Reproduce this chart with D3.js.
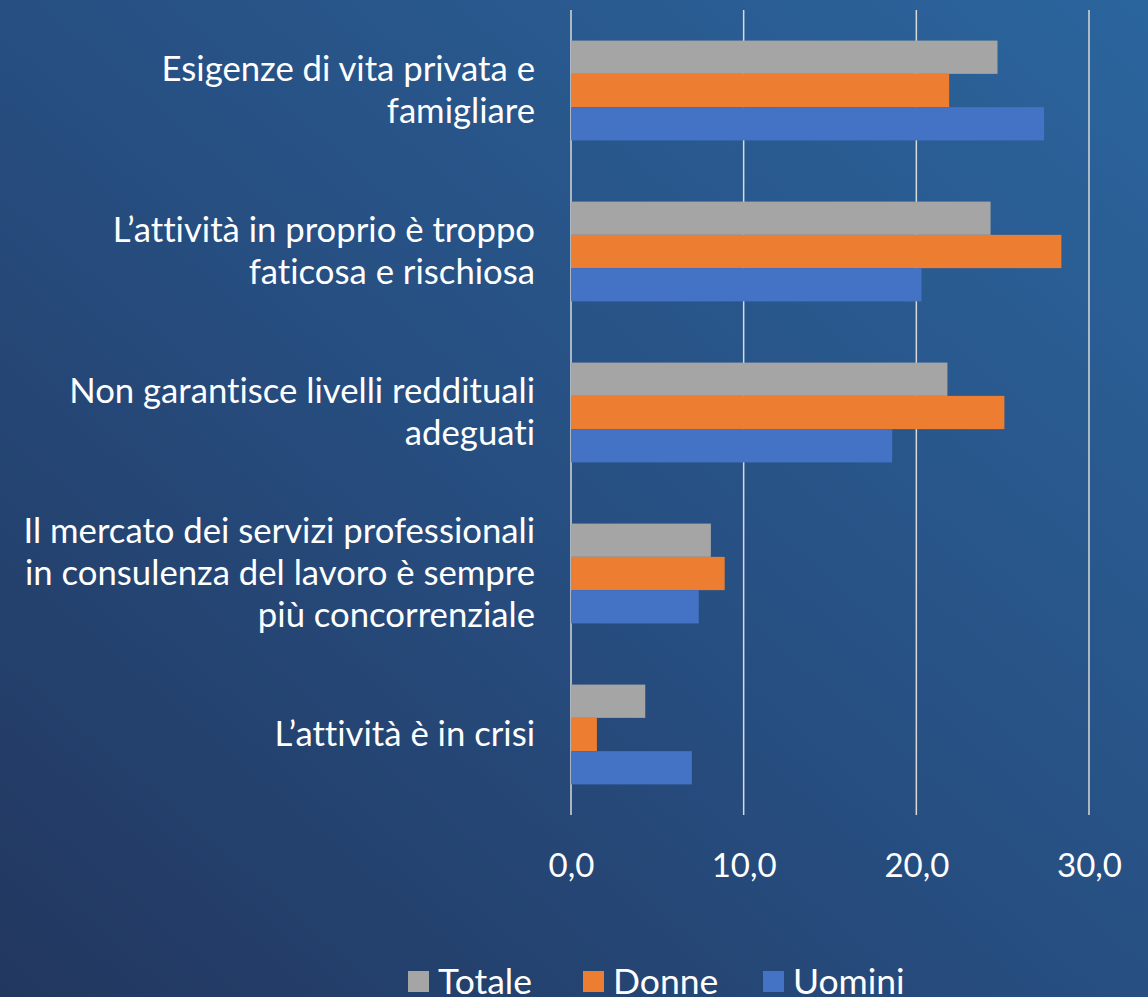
<!DOCTYPE html>
<html>
<head>
<meta charset="utf-8">
<script src="https://cdn.jsdelivr.net/npm/d3@7"></script>
<style>
html,body{margin:0;padding:0;background:#24426e;}
svg{display:block;}
text{font-family:Lato,"Open Sans",sans-serif;fill:#ffffff;font-variant-ligatures:none;font-feature-settings:"liga" 0,"clig" 0;}
</style>
</head>
<body>
<script>
const categories = [
  "Esigenze di vita privata e famigliare",
  "L’attività in proprio è troppo faticosa e rischiosa",
  "Non garantisce livelli reddituali adeguati",
  "Il mercato dei servizi professionali in consulenza del lavoro è sempre più concorrenziale",
  "L’attività è in crisi"
];
const categoryLines = [
  ["Esigenze di vita privata e", "famigliare"],
  ["L’attività in proprio è troppo", "faticosa e rischiosa"],
  ["Non garantisce livelli reddituali", "adeguati"],
  ["Il mercato dei servizi professionali", "in consulenza del lavoro è sempre", "più concorrenziale"],
  ["L’attività è in crisi"]
];
const seriesNames = ["Totale", "Donne", "Uomini"];
const totale = [24.7, 24.3, 21.8, 8.1, 4.3];
const donne  = [21.9, 28.4, 25.1, 8.9, 1.5];
const uomini = [27.4, 20.3, 18.6, 7.4, 7.0];
const tickValues = [0, 10, 20, 30];
const tickLabels = ["0,0", "10,0", "20,0", "30,0"];
const colors = ["#A5A5A5", "#ED7D31", "#4472C4"];

const W = 1148, H = 997;
const svg = d3.select("body").append("svg").attr("width", W).attr("height", H);

const defs = svg.append("defs");
const grad = defs.append("linearGradient").attr("id", "bg")
  .attr("x1", "100%").attr("y1", "0%").attr("x2", "0%").attr("y2", "100%");
grad.append("stop").attr("offset", "0%").attr("stop-color", "#2b659d");
grad.append("stop").attr("offset", "50%").attr("stop-color", "#274f82");
grad.append("stop").attr("offset", "100%").attr("stop-color", "#22375f");
svg.append("rect").attr("width", W).attr("height", H).attr("fill", "url(#bg)");

const plot = {left: 571, right: 1089, top: 10, bottom: 815};
const x = d3.scaleLinear().domain([0, 30]).range([plot.left, plot.right]);
const y = d3.scaleBand().domain(categories).range([plot.top, plot.bottom])
  .paddingInner(0.38).paddingOuter(0.19);
const ySub = d3.scaleBand().domain(seriesNames).range([0, y.bandwidth()]);

const series = [totale, donne, uomini];

// gridlines
svg.append("g").selectAll("line").data(tickValues).join("line")
  .attr("x1", d => x(d)).attr("x2", d => x(d))
  .attr("y1", plot.top).attr("y2", plot.bottom)
  .attr("stroke", "#d9d9d9").attr("stroke-width", 1.5);

// bars
const groups = svg.append("g").selectAll("g").data(categories).join("g")
  .attr("transform", c => `translate(0,${y(c)})`);
groups.selectAll("rect").data((c, i) => seriesNames.map((s, j) => ({s, v: series[j][i], j})))
  .join("rect")
  .attr("x", x(0))
  .attr("y", d => ySub(d.s))
  .attr("width", d => x(d.v) - x(0))
  .attr("height", ySub.bandwidth())
  .attr("fill", d => colors[d.j]);

// category labels
const lineH = 42;
const labels = svg.append("g").selectAll("text").data(categories).join("text")
  .attr("text-anchor", "end")
  .attr("font-size", 34.7)
  .attr("transform", (c, i) => {
    const n = categoryLines[i].length;
    const cy = y(c) + y.bandwidth() / 2;
    return `translate(535,${cy - (n - 1) * lineH / 2 + 11})`;
  });
labels.selectAll("tspan").data((c, i) => categoryLines[i]).join("tspan")
  .attr("x", 0).attr("dy", (d, k) => k === 0 ? 0 : lineH).text(d => d);

// x axis tick labels
const xAxis = d3.axisBottom(x).tickValues(tickValues)
  .tickFormat((d, i) => tickLabels[i]).tickSize(0).tickPadding(0);
const ax = svg.append("g").attr("transform", `translate(0,${plot.bottom})`).call(xAxis);
ax.select(".domain").remove();
ax.selectAll("text").attr("font-size", 33).attr("dy", null)
  .attr("y", 62).style("font-family", "Lato, 'Open Sans', sans-serif").attr("fill", "#fff");

// legend
const legendItems = [
  {name: "Totale", x: 408},
  {name: "Donne", x: 583},
  {name: "Uomini", x: 763}
];
const lg = svg.append("g").selectAll("g").data(seriesNames).join("g")
  .attr("transform", (d, i) => `translate(${legendItems[i].x},971)`);
lg.append("rect").attr("width", 21).attr("height", 21).attr("fill", (d, i) => colors[i]);
lg.append("text").attr("x", 30).attr("y", 22.5).attr("font-size", 35.5).text(d => d);
</script>
</body>
</html>
